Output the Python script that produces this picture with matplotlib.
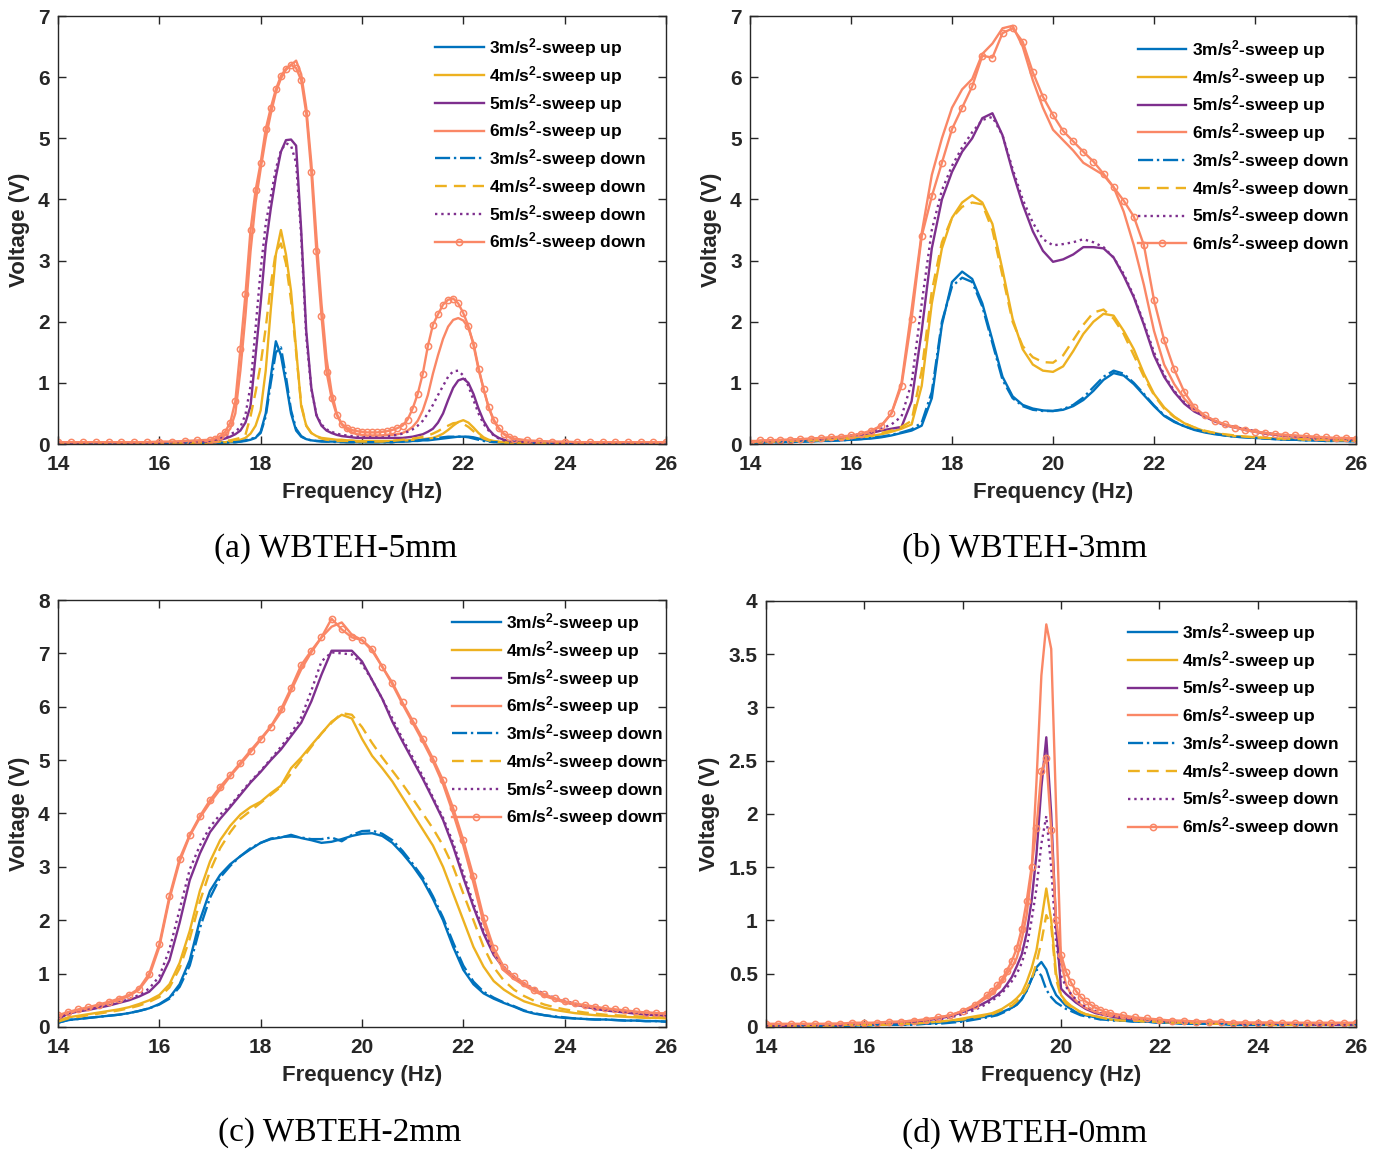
import numpy as np
import matplotlib
matplotlib.use('Agg')
import matplotlib.pyplot as plt
from matplotlib.ticker import FormatStrFormatter

plt.rcParams['font.family'] = ['Liberation Sans', 'DejaVu Sans']
plt.rcParams['mathtext.default'] = 'regular'

# frequency grids (Hz)
FREQ_A = np.round(np.r_[np.arange(14, 17, 0.25), np.arange(17, 23.05, 0.1),
                        np.arange(23.25, 26.01, 0.25)], 2)
FREQ_BC = np.round(np.arange(14, 26.01, 0.2), 2)
FREQ_D = np.round(np.r_[np.arange(14, 18.5, 0.25), np.arange(18.5, 21.05, 0.1),
                        np.arange(21.25, 26.01, 0.25)], 2)

# ---- (a) WBTEH-5mm, voltage (V) ----
A_UP3 = [0.01, 0.01, 0.01, 0.01, 0.01, 0.01, 0.01, 0.01, 0.01, 0.01, 0.01, 0.01,
         0.01, 0.01, 0.02, 0.02, 0.03, 0.03, 0.04, 0.05, 0.07, 0.10,
         0.20, 0.50, 1.10, 1.68, 1.45, 1.00, 0.50, 0.22, 0.12, 0.08,
         0.06, 0.05, 0.05, 0.04, 0.04, 0.04, 0.04, 0.03, 0.03, 0.03,
         0.03, 0.03, 0.03, 0.03, 0.03, 0.03, 0.03, 0.04, 0.04, 0.04,
         0.05, 0.05, 0.06, 0.06, 0.07, 0.08, 0.09, 0.10, 0.11, 0.12,
         0.12, 0.12, 0.11, 0.09, 0.07, 0.05, 0.04, 0.03, 0.02, 0.02,
         0.02,
         0.01, 0.01, 0.01, 0.01, 0.01, 0.01, 0.01, 0.01, 0.01, 0.01, 0.01, 0.01]
A_UP4 = [0.01, 0.01, 0.01, 0.01, 0.01, 0.01, 0.01, 0.01, 0.01, 0.02, 0.02, 0.02,
         0.02, 0.02, 0.03, 0.03, 0.04, 0.05, 0.07, 0.10, 0.17, 0.30,
         0.55, 1.20, 2.20, 3.10, 3.50, 3.10, 2.50, 1.55, 0.62, 0.30,
         0.18, 0.13, 0.10, 0.09, 0.08, 0.07, 0.07, 0.06, 0.06, 0.05,
         0.05, 0.05, 0.05, 0.05, 0.05, 0.05, 0.05, 0.06, 0.06, 0.06,
         0.07, 0.07, 0.08, 0.09, 0.10, 0.13, 0.17, 0.23, 0.30, 0.36,
         0.39, 0.35, 0.27, 0.18, 0.11, 0.07, 0.05, 0.04, 0.03, 0.02,
         0.02,
         0.02, 0.01, 0.01, 0.01, 0.01, 0.01, 0.01, 0.01, 0.01, 0.01, 0.01, 0.01]
A_UP5 = [0.01, 0.01, 0.01, 0.01, 0.01, 0.01, 0.02, 0.02, 0.02, 0.02, 0.03, 0.03,
         0.04, 0.05, 0.07, 0.09, 0.12, 0.16, 0.22, 0.35, 0.62, 1.45,
         2.30, 3.25, 3.85, 4.37, 4.78, 4.97, 4.98, 4.88, 3.50, 1.85,
         0.92, 0.47, 0.30, 0.22, 0.18, 0.15, 0.13, 0.12, 0.11, 0.10,
         0.10, 0.10, 0.10, 0.10, 0.10, 0.10, 0.10, 0.10, 0.10, 0.11,
         0.12, 0.14, 0.16, 0.20, 0.25, 0.35, 0.50, 0.72, 0.92, 1.04,
         1.07, 1.00, 0.82, 0.58, 0.38, 0.24, 0.15, 0.10, 0.07, 0.05,
         0.04,
         0.03, 0.03, 0.02, 0.02, 0.02, 0.02, 0.01, 0.01, 0.01, 0.01, 0.01, 0.01]
A_UP6 = [0.02, 0.02, 0.02, 0.02, 0.02, 0.02, 0.02, 0.02, 0.02, 0.03, 0.03, 0.04,
         0.05, 0.07, 0.10, 0.15, 0.25, 0.50, 1.20, 2.10, 3.15, 3.95,
         4.50, 5.00, 5.40, 5.75, 5.98, 6.12, 6.20, 6.27, 6.05, 5.50,
         4.60, 3.40, 2.30, 1.40, 0.85, 0.50, 0.32, 0.24, 0.19, 0.16,
         0.15, 0.14, 0.14, 0.14, 0.14, 0.15, 0.15, 0.16, 0.18, 0.22,
         0.28, 0.38, 0.55, 0.80, 1.15, 1.45, 1.72, 1.92, 2.03, 2.06,
         2.02, 1.90, 1.65, 1.25, 0.90, 0.60, 0.38, 0.25, 0.16, 0.11,
         0.08,
         0.05, 0.04, 0.03, 0.03, 0.02, 0.02, 0.02, 0.02, 0.02, 0.02, 0.02, 0.02]
A_DN3 = [0.01, 0.01, 0.01, 0.01, 0.01, 0.01, 0.01, 0.01, 0.01, 0.01, 0.01, 0.01,
         0.01, 0.01, 0.02, 0.02, 0.03, 0.03, 0.04, 0.06, 0.08, 0.11,
         0.18, 0.45, 1.00, 1.50, 1.58, 1.10, 0.55, 0.25, 0.13, 0.08,
         0.06, 0.05, 0.04, 0.04, 0.04, 0.03, 0.03, 0.03, 0.03, 0.03,
         0.03, 0.03, 0.03, 0.03, 0.03, 0.03, 0.03, 0.04, 0.04, 0.05,
         0.05, 0.06, 0.07, 0.08, 0.09, 0.10, 0.11, 0.12, 0.12, 0.12,
         0.12, 0.11, 0.09, 0.07, 0.05, 0.04, 0.03, 0.03, 0.02, 0.02,
         0.02,
         0.01, 0.01, 0.01, 0.01, 0.01, 0.01, 0.01, 0.01, 0.01, 0.01, 0.01, 0.01]
A_DN4 = [0.01, 0.01, 0.01, 0.01, 0.01, 0.01, 0.01, 0.01, 0.01, 0.02, 0.02, 0.02,
         0.02, 0.03, 0.04, 0.05, 0.06, 0.08, 0.10, 0.15, 0.45, 0.85,
         1.30, 1.90, 2.60, 3.15, 3.28, 2.95, 2.35, 1.50, 0.65, 0.30,
         0.18, 0.12, 0.09, 0.07, 0.06, 0.05, 0.05, 0.05, 0.04, 0.04,
         0.04, 0.04, 0.04, 0.04, 0.04, 0.05, 0.05, 0.06, 0.07, 0.08,
         0.09, 0.10, 0.12, 0.14, 0.17, 0.21, 0.26, 0.30, 0.34, 0.35,
         0.33, 0.28, 0.21, 0.14, 0.09, 0.06, 0.04, 0.03, 0.03, 0.02,
         0.02,
         0.02, 0.01, 0.01, 0.01, 0.01, 0.01, 0.01, 0.01, 0.01, 0.01, 0.01, 0.01]
A_DN5 = [0.01, 0.01, 0.01, 0.01, 0.01, 0.02, 0.02, 0.02, 0.02, 0.03, 0.03, 0.04,
         0.05, 0.07, 0.09, 0.12, 0.16, 0.20, 0.28, 0.48, 0.95, 1.90,
         2.85, 3.60, 4.05, 4.50, 4.80, 4.92, 4.88, 4.60, 3.40, 1.75,
         0.90, 0.48, 0.32, 0.24, 0.20, 0.17, 0.15, 0.14, 0.13, 0.12,
         0.12, 0.12, 0.12, 0.12, 0.13, 0.13, 0.14, 0.15, 0.17, 0.20,
         0.24, 0.30, 0.38, 0.50, 0.64, 0.80, 0.95, 1.10, 1.19, 1.20,
         1.12, 0.95, 0.72, 0.50, 0.33, 0.22, 0.14, 0.09, 0.06, 0.05,
         0.04,
         0.03, 0.03, 0.02, 0.02, 0.02, 0.02, 0.01, 0.01, 0.01, 0.01, 0.01, 0.01]
A_DN6 = [0.03, 0.03, 0.03, 0.03, 0.03, 0.03, 0.03, 0.03, 0.04, 0.04, 0.05, 0.06,
         0.07, 0.09, 0.13, 0.20, 0.35, 0.70, 1.55, 2.45, 3.50, 4.15,
         4.60, 5.15, 5.50, 5.80, 6.02, 6.14, 6.20, 6.15, 5.95, 5.41,
         4.45, 3.15, 2.10, 1.18, 0.75, 0.48, 0.33, 0.27, 0.23, 0.21,
         0.20, 0.19, 0.19, 0.19, 0.20, 0.21, 0.23, 0.26, 0.30, 0.40,
         0.58, 0.82, 1.15, 1.60, 1.95, 2.12, 2.28, 2.36, 2.38, 2.30,
         2.14, 1.93, 1.62, 1.22, 0.90, 0.60, 0.40, 0.26, 0.17, 0.12,
         0.09,
         0.06, 0.05, 0.04, 0.04, 0.03, 0.03, 0.03, 0.03, 0.03, 0.03, 0.03, 0.03]

# ---- (b) WBTEH-3mm ----
B_UP3 = [0.02, 0.02, 0.03, 0.03, 0.03, 0.04, 0.04, 0.05, 0.05, 0.06,
         0.07, 0.08, 0.09, 0.11, 0.14, 0.18, 0.22, 0.30, 0.75, 1.95,
         2.65, 2.82, 2.70, 2.30, 1.70, 1.10, 0.78, 0.64, 0.58, 0.55,
         0.54, 0.56, 0.62, 0.72, 0.87, 1.05, 1.16, 1.12, 0.98, 0.80,
         0.62, 0.46, 0.36, 0.29, 0.23, 0.19, 0.16, 0.14, 0.12, 0.11,
         0.10, 0.09, 0.08, 0.07, 0.07, 0.06, 0.06, 0.05, 0.05, 0.05,
         0.04]
B_UP4 = [0.03, 0.03, 0.04, 0.04, 0.05, 0.05, 0.06, 0.06, 0.07, 0.08,
         0.09, 0.11, 0.13, 0.16, 0.20, 0.25, 0.32, 0.95, 2.30, 3.20,
         3.70, 3.95, 4.07, 3.95, 3.60, 2.85, 2.05, 1.55, 1.30, 1.20,
         1.18, 1.27, 1.52, 1.80, 2.00, 2.13, 2.10, 1.85, 1.55, 1.15,
         0.82, 0.60, 0.45, 0.34, 0.27, 0.21, 0.18, 0.15, 0.13, 0.12,
         0.11, 0.10, 0.09, 0.08, 0.08, 0.07, 0.07, 0.06, 0.06, 0.06,
         0.05]
B_UP5 = [0.04, 0.04, 0.05, 0.05, 0.06, 0.06, 0.07, 0.08, 0.09, 0.11,
         0.13, 0.15, 0.18, 0.22, 0.25, 0.28, 0.70, 1.85, 3.20, 4.00,
         4.45, 4.78, 5.00, 5.33, 5.41, 5.05, 4.45, 3.92, 3.48, 3.16,
         2.98, 3.02, 3.10, 3.22, 3.22, 3.20, 3.05, 2.75, 2.40, 1.95,
         1.45, 1.10, 0.85, 0.66, 0.53, 0.45, 0.37, 0.31, 0.27, 0.23,
         0.20, 0.17, 0.15, 0.13, 0.12, 0.11, 0.10, 0.09, 0.08, 0.08,
         0.07]
B_UP6 = [0.05, 0.05, 0.06, 0.06, 0.07, 0.08, 0.08, 0.09, 0.10, 0.11,
         0.13, 0.16, 0.20, 0.30, 0.50, 1.00, 2.20, 3.45, 4.40, 5.00,
         5.50, 5.80, 5.97, 6.38, 6.55, 6.80, 6.84, 6.50, 5.95, 5.50,
         5.14, 4.97, 4.80, 4.60, 4.50, 4.40, 4.20, 3.80, 3.25, 2.60,
         1.85, 1.30, 0.98, 0.74, 0.57, 0.46, 0.38, 0.32, 0.28, 0.24,
         0.21, 0.18, 0.16, 0.14, 0.13, 0.12, 0.11, 0.10, 0.09, 0.09,
         0.08]
B_DN3 = [0.02, 0.03, 0.03, 0.03, 0.04, 0.04, 0.05, 0.05, 0.06, 0.06,
         0.07, 0.08, 0.10, 0.12, 0.15, 0.19, 0.24, 0.35, 0.85, 2.00,
         2.58, 2.72, 2.65, 2.25, 1.65, 1.05, 0.75, 0.62, 0.56, 0.54,
         0.54, 0.57, 0.64, 0.76, 0.93, 1.10, 1.20, 1.15, 1.00, 0.82,
         0.63, 0.47, 0.37, 0.29, 0.24, 0.20, 0.17, 0.14, 0.12, 0.11,
         0.10, 0.09, 0.08, 0.07, 0.07, 0.06, 0.06, 0.05, 0.05, 0.05,
         0.04]
B_DN4 = [0.03, 0.04, 0.04, 0.05, 0.05, 0.06, 0.06, 0.07, 0.08, 0.09,
         0.10, 0.12, 0.14, 0.18, 0.22, 0.28, 0.38, 1.20, 2.50, 3.30,
         3.70, 3.88, 3.95, 3.92, 3.50, 2.75, 2.00, 1.60, 1.42, 1.34,
         1.33, 1.45, 1.70, 1.95, 2.15, 2.20, 2.05, 1.80, 1.45, 1.10,
         0.80, 0.58, 0.44, 0.34, 0.27, 0.22, 0.18, 0.16, 0.14, 0.12,
         0.11, 0.10, 0.09, 0.09, 0.08, 0.08, 0.07, 0.07, 0.06, 0.06,
         0.06]
B_DN5 = [0.04, 0.05, 0.05, 0.06, 0.06, 0.07, 0.08, 0.09, 0.10, 0.12,
         0.14, 0.16, 0.20, 0.25, 0.32, 0.45, 1.00, 2.30, 3.50, 4.15,
         4.55, 4.85, 5.10, 5.30, 5.35, 5.05, 4.50, 4.00, 3.62, 3.35,
         3.25, 3.27, 3.30, 3.35, 3.30, 3.22, 3.05, 2.78, 2.42, 1.98,
         1.50, 1.13, 0.87, 0.68, 0.55, 0.46, 0.38, 0.32, 0.28, 0.24,
         0.21, 0.18, 0.16, 0.14, 0.13, 0.12, 0.11, 0.10, 0.09, 0.09,
         0.08]
B_DN6 = [0.02, 0.06, 0.06, 0.07, 0.07, 0.08, 0.09, 0.10, 0.11, 0.12,
         0.14, 0.17, 0.22, 0.30, 0.50, 0.95, 2.05, 3.40, 4.05, 4.60,
         5.15, 5.50, 5.85, 6.35, 6.32, 6.72, 6.80, 6.58, 6.08, 5.68,
         5.38, 5.12, 4.95, 4.78, 4.62, 4.42, 4.20, 3.98, 3.72, 3.25,
         2.35, 1.70, 1.22, 0.85, 0.60, 0.47, 0.38, 0.32, 0.27, 0.23,
         0.20, 0.18, 0.16, 0.15, 0.14, 0.13, 0.12, 0.11, 0.10, 0.10,
         0.09]

# ---- (c) WBTEH-2mm ----
C_UP3 = [0.08, 0.13, 0.15, 0.17, 0.19, 0.21, 0.23, 0.26, 0.30, 0.35,
         0.43, 0.55, 0.80, 1.25, 2.00, 2.55, 2.85, 3.05, 3.20, 3.33,
         3.45, 3.52, 3.55, 3.60, 3.54, 3.50, 3.45, 3.47, 3.52, 3.58,
         3.62, 3.63, 3.58, 3.45, 3.25, 3.02, 2.75, 2.40, 2.00, 1.50,
         1.07, 0.80, 0.63, 0.53, 0.45, 0.38, 0.30, 0.25, 0.22, 0.19,
         0.17, 0.16, 0.15, 0.14, 0.14, 0.13, 0.12, 0.12, 0.11, 0.11,
         0.10]
C_UP4 = [0.12, 0.18, 0.21, 0.24, 0.27, 0.30, 0.33, 0.37, 0.43, 0.50,
         0.60, 0.80, 1.20, 1.80, 2.55, 3.10, 3.50, 3.77, 3.98, 4.12,
         4.22, 4.38, 4.52, 4.85, 5.05, 5.28, 5.50, 5.72, 5.85, 5.78,
         5.40, 5.08, 4.85, 4.60, 4.30, 4.00, 3.70, 3.40, 3.00, 2.50,
         2.00, 1.50, 1.13, 0.86, 0.70, 0.58, 0.48, 0.42, 0.36, 0.32,
         0.29, 0.26, 0.24, 0.22, 0.21, 0.20, 0.19, 0.18, 0.17, 0.17,
         0.16]
C_UP5 = [0.15, 0.25, 0.29, 0.32, 0.36, 0.40, 0.45, 0.50, 0.57, 0.66,
         0.85, 1.25, 1.95, 2.75, 3.25, 3.65, 3.90, 4.12, 4.35, 4.58,
         4.78, 5.00, 5.20, 5.45, 5.70, 6.10, 6.60, 7.05, 7.05, 7.05,
         6.85, 6.50, 6.15, 5.72, 5.35, 5.00, 4.65, 4.27, 3.88, 3.38,
         2.80, 2.25, 1.75, 1.35, 1.10, 0.92, 0.80, 0.69, 0.60, 0.53,
         0.47, 0.42, 0.38, 0.34, 0.31, 0.29, 0.27, 0.25, 0.23, 0.22,
         0.21]
C_UP6 = [0.20, 0.26, 0.31, 0.35, 0.40, 0.45, 0.50, 0.58, 0.70, 0.95,
         1.50, 2.40, 3.10, 3.58, 3.92, 4.20, 4.45, 4.70, 4.92, 5.15,
         5.38, 5.62, 5.90, 6.30, 6.70, 7.02, 7.30, 7.50, 7.58, 7.35,
         7.25, 7.05, 6.75, 6.42, 6.05, 5.70, 5.35, 4.98, 4.55, 4.00,
         3.40, 2.70, 1.95, 1.40, 1.06, 0.90, 0.78, 0.67, 0.58, 0.52,
         0.46, 0.42, 0.39, 0.36, 0.34, 0.32, 0.30, 0.28, 0.27, 0.26,
         0.25]
C_DN3 = [0.08, 0.13, 0.15, 0.17, 0.19, 0.21, 0.23, 0.26, 0.30, 0.35,
         0.42, 0.53, 0.75, 1.15, 1.85, 2.42, 2.80, 3.02, 3.20, 3.35,
         3.45, 3.53, 3.56, 3.57, 3.55, 3.52, 3.52, 3.55, 3.48, 3.60,
         3.67, 3.68, 3.62, 3.50, 3.30, 3.06, 2.80, 2.45, 2.05, 1.58,
         1.15, 0.85, 0.66, 0.55, 0.46, 0.39, 0.31, 0.26, 0.22, 0.20,
         0.18, 0.16, 0.15, 0.14, 0.14, 0.13, 0.12, 0.12, 0.11, 0.11,
         0.10]
C_DN4 = [0.10, 0.16, 0.19, 0.22, 0.25, 0.28, 0.31, 0.35, 0.40, 0.47,
         0.56, 0.74, 1.10, 1.65, 2.35, 2.92, 3.35, 3.65, 3.90, 4.05,
         4.20, 4.35, 4.50, 4.75, 5.00, 5.25, 5.50, 5.70, 5.88, 5.85,
         5.62, 5.32, 5.05, 4.80, 4.55, 4.28, 4.00, 3.72, 3.40, 3.00,
         2.50, 2.00, 1.50, 1.12, 0.87, 0.70, 0.58, 0.49, 0.42, 0.37,
         0.33, 0.30, 0.27, 0.25, 0.23, 0.22, 0.21, 0.20, 0.19, 0.18,
         0.17]
C_DN5 = [0.15, 0.26, 0.30, 0.33, 0.37, 0.41, 0.46, 0.52, 0.60, 0.72,
         0.95, 1.45, 2.20, 2.95, 3.40, 3.75, 3.98, 4.15, 4.38, 4.60,
         4.80, 5.02, 5.25, 5.50, 5.80, 6.30, 6.85, 7.02, 7.00, 6.98,
         6.80, 6.50, 6.15, 5.78, 5.40, 5.05, 4.70, 4.30, 3.92, 3.45,
         2.88, 2.32, 1.80, 1.40, 1.13, 0.95, 0.82, 0.71, 0.62, 0.55,
         0.49, 0.44, 0.39, 0.35, 0.32, 0.30, 0.28, 0.26, 0.24, 0.23,
         0.22]
C_DN6 = [0.22, 0.28, 0.33, 0.37, 0.42, 0.47, 0.53, 0.60, 0.72, 1.00,
         1.55, 2.45, 3.15, 3.60, 3.95, 4.25, 4.50, 4.72, 4.95, 5.18,
         5.40, 5.63, 5.95, 6.35, 6.78, 7.05, 7.30, 7.65, 7.45, 7.30,
         7.25, 7.08, 6.75, 6.45, 6.08, 5.74, 5.40, 5.03, 4.62, 4.10,
         3.50, 2.82, 2.05, 1.48, 1.12, 0.95, 0.82, 0.70, 0.61, 0.54,
         0.48, 0.44, 0.41, 0.38, 0.35, 0.33, 0.31, 0.29, 0.27, 0.26,
         0.25]

# ---- (d) WBTEH-0mm ----
D_UP3 = [0.01, 0.01, 0.01, 0.01, 0.01, 0.01, 0.01, 0.01, 0.02, 0.02, 0.02, 0.02,
         0.03, 0.03, 0.04, 0.05, 0.06, 0.08,
         0.10, 0.11, 0.12, 0.14, 0.16, 0.18, 0.21, 0.26, 0.34, 0.45,
         0.56, 0.61, 0.54, 0.40, 0.30, 0.25, 0.20, 0.17, 0.14, 0.12,
         0.11, 0.10, 0.09, 0.08, 0.07, 0.07,
         0.06, 0.05, 0.05, 0.04, 0.04, 0.03, 0.03, 0.03, 0.03, 0.02,
         0.02, 0.02, 0.02, 0.02, 0.02, 0.02, 0.02, 0.02, 0.02, 0.02]
D_UP4 = [0.01, 0.01, 0.01, 0.01, 0.01, 0.02, 0.02, 0.02, 0.02, 0.02, 0.03, 0.03,
         0.04, 0.04, 0.05, 0.06, 0.08, 0.10,
         0.12, 0.13, 0.15, 0.17, 0.20, 0.23, 0.27, 0.32, 0.42, 0.55,
         0.72, 1.00, 1.30, 1.00, 0.50, 0.30, 0.24, 0.20, 0.17, 0.14,
         0.12, 0.11, 0.10, 0.09, 0.08, 0.07,
         0.06, 0.06, 0.05, 0.05, 0.04, 0.04, 0.04, 0.03, 0.03, 0.03,
         0.03, 0.03, 0.02, 0.02, 0.02, 0.02, 0.02, 0.02, 0.02, 0.02]
D_UP5 = [0.01, 0.01, 0.01, 0.02, 0.02, 0.02, 0.02, 0.03, 0.03, 0.03, 0.04, 0.04,
         0.05, 0.06, 0.08, 0.10, 0.14, 0.18,
         0.24, 0.27, 0.30, 0.34, 0.40, 0.47, 0.57, 0.68, 0.88, 1.18,
         1.62, 2.25, 2.72, 2.00, 0.95, 0.36, 0.31, 0.27, 0.23, 0.20,
         0.17, 0.15, 0.13, 0.12, 0.11, 0.10,
         0.08, 0.07, 0.06, 0.06, 0.05, 0.05, 0.04, 0.04, 0.04, 0.03,
         0.03, 0.03, 0.03, 0.03, 0.03, 0.02, 0.02, 0.02, 0.02, 0.02]
D_UP6 = [0.02, 0.02, 0.02, 0.02, 0.02, 0.03, 0.03, 0.03, 0.03, 0.04, 0.04, 0.05,
         0.06, 0.07, 0.09, 0.11, 0.15, 0.20,
         0.28, 0.31, 0.36, 0.42, 0.50, 0.56, 0.65, 0.82, 1.05, 1.45,
         2.30, 3.30, 3.78, 3.55, 2.05, 0.62, 0.40, 0.31, 0.25, 0.21,
         0.18, 0.16, 0.14, 0.13, 0.12, 0.11,
         0.09, 0.08, 0.07, 0.06, 0.06, 0.05, 0.05, 0.05, 0.04, 0.04,
         0.04, 0.04, 0.04, 0.03, 0.03, 0.03, 0.03, 0.03, 0.03, 0.03]
D_DN3 = [0.01, 0.01, 0.01, 0.01, 0.01, 0.01, 0.01, 0.01, 0.01, 0.02, 0.02, 0.02,
         0.02, 0.03, 0.03, 0.04, 0.05, 0.07,
         0.09, 0.10, 0.11, 0.13, 0.15, 0.18, 0.21, 0.26, 0.34, 0.45,
         0.54, 0.48, 0.35, 0.28, 0.23, 0.20, 0.17, 0.15, 0.13, 0.11,
         0.10, 0.09, 0.08, 0.07, 0.07, 0.06,
         0.06, 0.05, 0.05, 0.04, 0.04, 0.03, 0.03, 0.03, 0.03, 0.02,
         0.02, 0.02, 0.02, 0.02, 0.02, 0.02, 0.02, 0.02, 0.02, 0.02]
D_DN4 = [0.01, 0.01, 0.01, 0.01, 0.01, 0.01, 0.02, 0.02, 0.02, 0.02, 0.02, 0.03,
         0.03, 0.04, 0.05, 0.06, 0.07, 0.09,
         0.11, 0.12, 0.14, 0.16, 0.18, 0.20, 0.24, 0.29, 0.36, 0.45,
         0.60, 0.80, 1.05, 0.95, 0.45, 0.28, 0.22, 0.19, 0.16, 0.14,
         0.12, 0.11, 0.10, 0.09, 0.08, 0.07,
         0.06, 0.06, 0.05, 0.05, 0.04, 0.04, 0.04, 0.03, 0.03, 0.03,
         0.03, 0.03, 0.02, 0.02, 0.02, 0.02, 0.02, 0.02, 0.02, 0.02]
D_DN5 = [0.01, 0.01, 0.01, 0.02, 0.02, 0.02, 0.02, 0.03, 0.03, 0.03, 0.04, 0.04,
         0.05, 0.06, 0.07, 0.09, 0.12, 0.16,
         0.22, 0.25, 0.28, 0.32, 0.37, 0.43, 0.50, 0.60, 0.75, 1.00,
         1.30, 1.72, 1.98, 1.50, 0.80, 0.48, 0.38, 0.31, 0.26, 0.22,
         0.19, 0.17, 0.15, 0.13, 0.12, 0.11,
         0.09, 0.08, 0.07, 0.06, 0.05, 0.05, 0.05, 0.04, 0.04, 0.04,
         0.03, 0.03, 0.03, 0.03, 0.03, 0.02, 0.02, 0.02, 0.02, 0.02]
D_DN6 = [0.03, 0.03, 0.03, 0.03, 0.03, 0.03, 0.03, 0.04, 0.04, 0.04, 0.05, 0.05,
         0.06, 0.07, 0.09, 0.11, 0.15, 0.21,
         0.30, 0.34, 0.39, 0.45, 0.53, 0.62, 0.74, 0.92, 1.18, 1.50,
         1.87, 2.40, 2.53, 1.85, 1.00, 0.68, 0.52, 0.42, 0.34, 0.28,
         0.24, 0.21, 0.18, 0.16, 0.14, 0.13,
         0.11, 0.09, 0.08, 0.07, 0.06, 0.06, 0.05, 0.05, 0.05, 0.04,
         0.04, 0.04, 0.04, 0.04, 0.04, 0.04, 0.04, 0.04, 0.04, 0.04]

ACCEL = [3, 4, 5, 6]
COLORS = ['#0072BD', '#EDB120', '#7E2F8E', '#FA8766']
DOWN_STYLES = [dict(ls='-.'), dict(ls=(0, (5, 3))), dict(ls=':'),
               dict(ls='-', marker='o', ms=4.5, mfc='none', mew=1.1)]
INK = '#262626'

fig = plt.figure(figsize=(13.84, 11.53), dpi=100)


def draw_panel(rect, freq, up, down, ymax, yticks, leg_xy, caption, cap_xy):
    ax = fig.add_axes(rect)
    for k in range(4):
        ax.plot(freq, up[k], color=COLORS[k], lw=1.7,
                label=f'{ACCEL[k]}m/s$^2$-sweep up')
    for k in range(4):
        ax.plot(freq, down[k], color=COLORS[k], lw=1.7,
                label=f'{ACCEL[k]}m/s$^2$-sweep down', **DOWN_STYLES[k])
    ax.set_xlim(14, 26)
    ax.set_ylim(0, ymax)
    ax.set_xticks(range(14, 27, 2))
    ax.set_yticks(yticks)
    ax.yaxis.set_major_formatter(FormatStrFormatter('%g'))
    ax.tick_params(direction='in', top=True, right=True, length=6, width=1,
                   color=INK, labelcolor=INK, labelsize=15)
    ax.tick_params(axis='x', pad=8)
    ax.tick_params(axis='y', pad=6)
    for lab in ax.get_xticklabels() + ax.get_yticklabels():
        lab.set_fontweight('bold')
    for sp in ax.spines.values():
        sp.set_color(INK)
        sp.set_linewidth(1)
    ax.set_xlabel('Frequency (Hz)', fontsize=16, fontweight='bold', color=INK, labelpad=6)
    ax.set_ylabel('Voltage (V)', fontsize=16, fontweight='bold', color=INK, labelpad=6)
    ax.legend(loc='upper left', bbox_to_anchor=leg_xy, frameon=False,
              borderpad=0, borderaxespad=0, handlelength=2.8, handletextpad=0.3,
              labelspacing=0.28, prop={'weight': 'bold', 'size': 12.5})
    fig.text(cap_xy[0], cap_xy[1], caption, ha='center', va='center',
             fontsize=24, family=['Liberation Serif', 'DejaVu Serif'])
    return ax


draw_panel([0.0419, 0.6149, 0.4393, 0.3712], FREQ_A,
           [A_UP3, A_UP4, A_UP5, A_UP6], [A_DN3, A_DN4, A_DN5, A_DN6],
           7, range(0, 8), (0.62, 0.953), '(a) WBTEH-5mm', (0.2428, 0.524))
draw_panel([0.5419, 0.6149, 0.4379, 0.3712], FREQ_BC,
           [B_UP3, B_UP4, B_UP5, B_UP6], [B_DN3, B_DN4, B_DN5, B_DN6],
           7, range(0, 8), (0.64, 0.949), '(b) WBTEH-3mm', (0.7406, 0.524))
draw_panel([0.0419, 0.1093, 0.4393, 0.3703], FREQ_BC,
           [C_UP3, C_UP4, C_UP5, C_UP6], [C_DN3, C_DN4, C_DN5, C_DN6],
           8, range(0, 9), (0.648, 0.974), '(c) WBTEH-2mm', (0.2457, 0.0173))
draw_panel([0.5535, 0.1093, 0.4263, 0.3695], FREQ_D,
           [D_UP3, D_UP4, D_UP5, D_UP6], [D_DN3, D_DN4, D_DN5, D_DN6],
           4, np.arange(0, 4.01, 0.5), (0.614, 0.953), '(d) WBTEH-0mm', (0.7406, 0.0173))

fig.savefig('out.png', dpi=100)
